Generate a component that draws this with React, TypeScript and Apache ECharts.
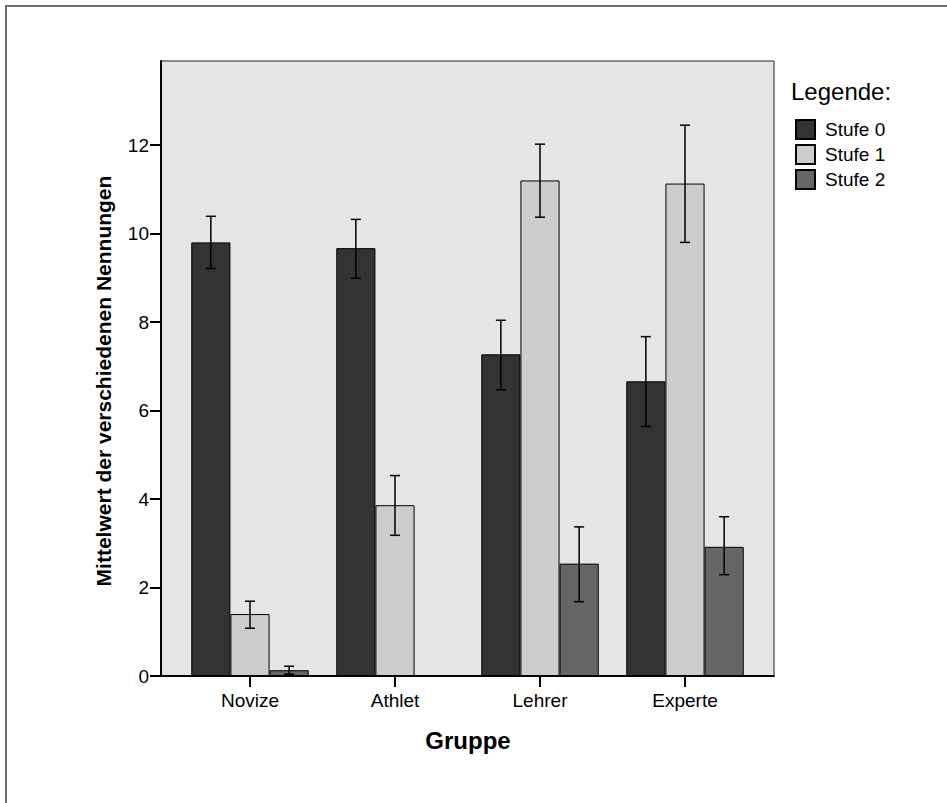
import React, { useEffect, useRef } from "react";
import * as echarts from "echarts";

const categories = ["Novize", "Athlet", "Lehrer", "Experte"];
const seriesNames = ["Stufe 0", "Stufe 1", "Stufe 2"];
const stufe0 = [9.8, 9.67, 7.27, 6.66];
const stufe1 = [1.4, 3.86, 11.2, 11.13];
const stufe2 = [0.13, 0, 2.54, 2.92];
const stufe0Lo = [9.21, 8.99, 6.47, 5.64];
const stufe0Hi = [10.39, 10.32, 8.04, 7.67];
const stufe1Lo = [1.08, 3.18, 10.37, 9.8];
const stufe1Hi = [1.69, 4.53, 12.02, 12.45];
const stufe2Lo: (number | null)[] = [0.04, null, 1.68, 2.29];
const stufe2Hi: (number | null)[] = [0.22, null, 3.37, 3.6];
const yMax = 13.9;

const colors = ["#333333", "#cccccc", "#666666"];
const FONT = "'Liberation Sans', Arial, sans-serif";

export default function App() {
  const ref = useRef<HTMLDivElement>(null);
  useEffect(() => {
    if (!ref.current) return;
    const chart = echarts.init(ref.current, undefined, { renderer: "svg" });
    const values = [stufe0, stufe1, stufe2];
    const los = [stufe0Lo, stufe1Lo, stufe2Lo];
    const his = [stufe0Hi, stufe1Hi, stufe2Hi];
    const barRel = 0.27;

    const bars = values.map((v, k) => ({
      name: seriesNames[k],
      type: "bar",
      xAxisIndex: 1,
      yAxisIndex: 1,
      data: v,
      barWidth: "27%",
      barGap: "0%",
      itemStyle: { color: colors[k], borderColor: "#000", borderWidth: 1 },
      z: 2,
    }));

    const errs = los.map((lo, k) => ({
      name: "err" + k,
      type: "custom",
      xAxisIndex: 1,
      yAxisIndex: 1,
      z: 5,
      data: lo
        .map((l, i) => (l == null || his[k][i] == null ? null : [i, l, his[k][i]]))
        .filter((d) => d != null),
      renderItem: (params: any, api: any) => {
        const x = api.value(0);
        const pLo = api.coord([x, api.value(1)]);
        const pHi = api.coord([x, api.value(2)]);
        const band = api.size([1, 0])[0];
        const cx = pLo[0] + (k - 1) * band * barRel;
        const h = 5;
        const style = { stroke: "#000", lineWidth: 1.5 };
        return {
          type: "group",
          children: [
            { type: "line", shape: { x1: cx, y1: pLo[1], x2: cx, y2: pHi[1] }, style },
            { type: "line", shape: { x1: cx - h, y1: pLo[1], x2: cx + h, y2: pLo[1] }, style },
            { type: "line", shape: { x1: cx - h, y1: pHi[1], x2: cx + h, y2: pHi[1] }, style },
          ],
        };
      },
    }));

    chart.setOption({
      animation: false,
      textStyle: { fontFamily: FONT },
      title: {
        text: "Legende:",
        left: 791,
        top: 79,
        padding: 0,
        textStyle: { fontSize: 24, fontWeight: "normal", color: "#000", fontFamily: FONT },
      },
      legend: {
        data: seriesNames,
        orient: "vertical",
        left: 795,
        top: 119,
        padding: 0,
        itemWidth: 19,
        itemHeight: 19,
        itemGap: 4,
        icon: "rect",
        textStyle: { fontSize: 19, color: "#000", fontFamily: FONT, padding: [0, 0, 0, 5] },
      },
      grid: [
        {
          left: 161,
          top: 61,
          width: 613,
          height: 615,
          show: true,
          backgroundColor: "#e5e5e5",
          borderColor: "#222",
          borderWidth: 1,
        },
        { left: 177.5, top: 61, width: 580, height: 615 },
      ],
      xAxis: [
        {
          gridIndex: 0,
          type: "value",
          min: 0,
          max: 1,
          axisLine: { show: true, onZero: false, lineStyle: { color: "#000", width: 2 } },
          axisTick: { show: false },
          axisLabel: { show: false },
          splitLine: { show: false },
        },
        {
          gridIndex: 1,
          type: "category",
          data: categories,
          axisLine: { show: false },
          axisTick: { show: true, alignWithLabel: true, length: 11, lineStyle: { color: "#000", width: 2 } },
          axisLabel: { fontSize: 19, color: "#000", margin: 15, fontFamily: FONT },
        },
      ],
      yAxis: [
        {
          gridIndex: 0,
          type: "value",
          min: 0,
          max: yMax,
          interval: 2,
          axisLine: { show: true, lineStyle: { color: "#000", width: 2 } },
          axisTick: { show: true, inside: false, length: 11, lineStyle: { color: "#000", width: 2 } },
          axisLabel: { fontSize: 19, color: "#000", margin: 12, showMaxLabel: false, fontFamily: FONT },
          splitLine: { show: false },
        },
        {
          gridIndex: 1,
          type: "value",
          min: 0,
          max: yMax,
          show: false,
          splitLine: { show: false },
        },
      ],
      graphic: [
        {
          type: "rect",
          shape: { x: 6, y: 6, width: 1200, height: 1200 },
          style: { fill: "none", stroke: "#6e6e6e", lineWidth: 2 },
          silent: true,
          z: -10,
        },
        {
          type: "text",
          x: 103,
          y: 381,
          rotation: Math.PI / 2,
          style: {
            text: "Mittelwert der verschiedenen Nennungen",
            font: `bold 21px ${FONT}`,
            fill: "#000",
            textAlign: "center",
            textVerticalAlign: "middle",
          },
        },
        {
          type: "text",
          x: 468,
          y: 740,
          style: {
            text: "Gruppe",
            font: `bold 24px ${FONT}`,
            fill: "#000",
            textAlign: "center",
            textVerticalAlign: "middle",
          },
        },
      ],
      series: [...bars, ...errs],
    });
    return () => chart.dispose();
  }, []);
  return (
    <div
      ref={ref}
      style={{ position: "absolute", left: 0, top: 0, width: 947, height: 803, background: "#fff" }}
    />
  );
}
